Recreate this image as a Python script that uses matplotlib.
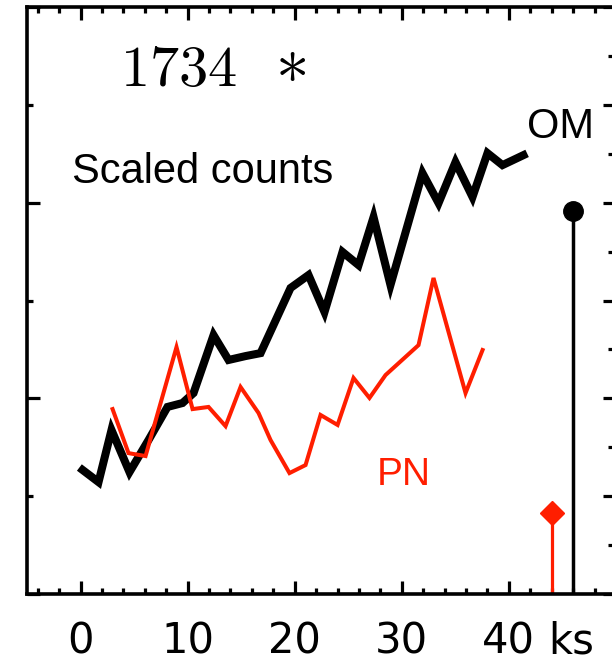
import numpy as np
import matplotlib.pyplot as plt
from matplotlib.ticker import MultipleLocator

# OM light curve (black, thick)
om_time = [0.19, 1.68, 2.89, 4.57, 6.35, 8.12, 9.52, 10.55, 12.42, 13.82, 15.41, 16.81,
           19.61, 21.29, 22.78, 24.46, 25.96, 27.36, 28.94, 31.93, 33.43, 35.01, 36.60,
           38.00, 39.40, 41.36]
om_counts = [0.634, 0.572, 0.838, 0.623, 0.787, 0.956, 0.976, 1.027, 1.323, 1.196, 1.216,
             1.231, 1.564, 1.630, 1.441, 1.748, 1.681, 1.926, 1.579, 2.151, 1.998, 2.207,
             2.029, 2.253, 2.192, 2.243]

# PN light curve (red, thin)
pn_time = [2.99, 4.48, 6.07, 8.96, 10.46, 11.95, 13.54, 14.94, 16.62, 17.74, 19.51, 21.01,
           22.41, 24.00, 25.49, 26.98, 28.48, 31.56, 32.96, 35.95, 37.54]
pn_counts = [0.945, 0.720, 0.705, 1.262, 0.945, 0.956, 0.858, 1.058, 0.925, 0.787, 0.618,
             0.659, 0.915, 0.864, 1.104, 1.002, 1.119, 1.272, 1.615, 1.027, 1.247]

# single markers with stems (mean levels)
pn_stem_x, pn_stem_y = 44.0, 0.414
om_stem_x, om_stem_y = 46.0, 1.957

xticks = [0, 10, 20, 30, 40]
xtick_labels = ["0", "10", "20", "30", "40"]

red = "#ff1e00"

fig = plt.figure(figsize=(6.12, 6.67), dpi=100)
ax = fig.add_axes([27 / 612, 73 / 667, 589 / 612, 587 / 667])

ax.plot(om_time, om_counts, color="black", lw=5.8, solid_joinstyle="miter", zorder=3)
ax.plot(pn_time, pn_counts, color=red, lw=2.9, solid_joinstyle="miter", zorder=4)

ax.plot([pn_stem_x, pn_stem_x], [0, pn_stem_y], color=red, lw=2.3, zorder=2)
ax.plot([pn_stem_x], [pn_stem_y], marker="D", ms=12, color=red, zorder=3)
ax.plot([om_stem_x, om_stem_x], [0, om_stem_y], color="black", lw=2.5, zorder=2)
ax.plot([om_stem_x], [om_stem_y], marker="o", ms=14, color="black", zorder=3)

ax.set_xlim(-5, 50)
ax.set_ylim(0, 3)

for sp in ax.spines.values():
    sp.set_linewidth(2.6)

ax.set_xticks(xticks)
ax.set_xticklabels(xtick_labels, family="DejaVu Sans", fontsize=30)
ax.xaxis.set_minor_locator(MultipleLocator(2))
ax.yaxis.set_major_locator(MultipleLocator(1))
ax.yaxis.set_minor_locator(MultipleLocator(0.5))
ax.tick_params(which="major", direction="in", length=9.5, width=2.3, top=True, right=False,
               labelleft=False, pad=19)
ax.tick_params(which="minor", direction="in", length=4.3, width=2.3, top=True, right=False)

# right-hand axis has its own, finer ticks
ax2 = ax.twinx()
ax2.set_ylim(0, 3)
ax2.yaxis.set_major_locator(MultipleLocator(0.5))
ax2.yaxis.set_minor_locator(MultipleLocator(0.25))
ax2.tick_params(which="major", direction="in", length=9.5, width=2.3, labelright=False)
ax2.tick_params(which="minor", direction="in", length=6, width=2.3)
for sp in ax2.spines.values():
    sp.set_visible(False)

ax.text(571 / 612, 13 / 667, "ks", transform=fig.transFigure, ha="center", va="baseline",
        family="DejaVu Sans", fontsize=30)

plt.rcParams["mathtext.fontset"] = "cm"
ax.text(0.158, 0.893, r"$\mathrm{1734}$", transform=ax.transAxes, ha="left", va="center",
        fontsize=42)
ax.text(0.447, 0.905, r"$\ast$", transform=ax.transAxes, ha="center", va="center",
        fontsize=48)

ax.text(0.0764, 0.719, "Scaled counts", transform=ax.transAxes, ha="left", va="center",
        family="Liberation Sans", fontsize=30)
ax.text(0.849, 0.796, "OM", transform=ax.transAxes, ha="left", va="center",
        family="Liberation Sans", fontsize=30)
ax.text(0.594, 0.203, "PN", transform=ax.transAxes, ha="left", va="center",
        family="Liberation Sans", fontsize=28, color=red)

plt.savefig("out.png", dpi=100)
